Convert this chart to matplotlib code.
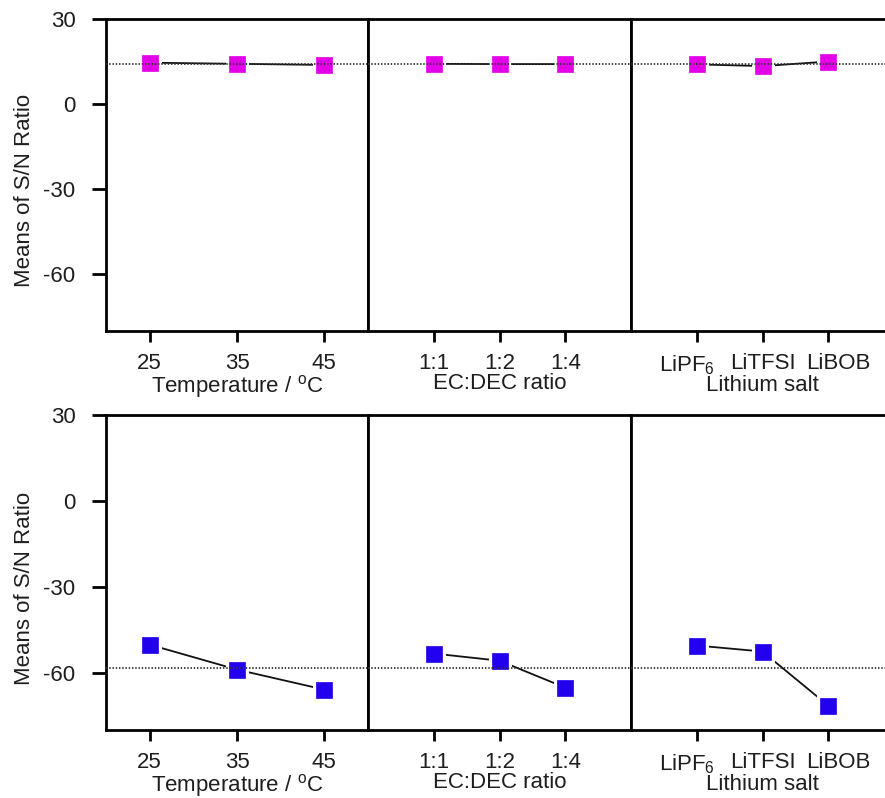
import matplotlib
matplotlib.use("Agg")
import matplotlib.pyplot as plt
import matplotlib.transforms as mtransforms
import numpy as np

plt.rcParams['font.family'] = ['Liberation Sans', 'DejaVu Sans']
plt.rcParams['mathtext.fontset'] = 'custom'
plt.rcParams['mathtext.rm'] = 'Liberation Sans'
plt.rcParams['mathtext.it'] = 'Liberation Sans'

# Factor levels
temp_levels = ['25', '35', '45']
ratio_levels = ['1:1', '1:2', '1:4']
salt_levels = ['LiPF$_\\mathregular{6}$', 'LiTFSI', 'LiBOB']

factor_names = ['Temperature / $^\\mathregular{o}$C', 'EC:DEC ratio', 'Lithium salt']

# Means of S/N ratio, upper response
upper_temp = [14.6, 14.2, 13.8]
upper_ratio = [14.2, 14.1, 14.1]
upper_salt = [14.0, 13.4, 15.0]
upper_mean = 14.2

# Means of S/N ratio, lower response
lower_temp = [-50.2, -58.9, -65.9]
lower_ratio = [-53.3, -55.8, -65.2]
lower_salt = [-50.5, -52.6, -71.5]
lower_mean = -58.2

yticks = [30, 0, -30, -60]

W, H = 885, 798
fig = plt.figure(figsize=(W / 100, H / 100), dpi=100)

panel_x = [(106, 368), (368, 631), (631, 894)]
rows = [
    dict(top=19, bottom=331, color='#e200e6',
         series=[upper_temp, upper_ratio, upper_salt], mean=upper_mean),
    dict(top=415, bottom=730, color='#2200ee',
         series=[lower_temp, lower_ratio, lower_salt], mean=lower_mean),
]
levels = [temp_levels, ratio_levels, salt_levels]
xlims = [(0.5, 3.5), (0, 4), (0, 4)]

FS = 16
spine_lw = 2.0
text_col = '#1e1e1e'

for row in rows:
    for j, (x0, x1) in enumerate(panel_x):
        ax = fig.add_axes([x0 / W, 1 - row['bottom'] / H,
                           (x1 - x0) / W, (row['bottom'] - row['top']) / H])
        vals = row['series'][j]
        xs = np.arange(1, len(vals) + 1)
        ax.plot(xs, vals, color='#111111', lw=1.3, zorder=2)
        # white halo leaves a small gap between line and marker
        ax.plot(xs, vals, ls='none', marker='s', ms=12, mfc='white',
                mec='white', mew=5, zorder=3)
        ax.plot(xs, vals, ls='none', marker='s', ms=12, mfc=row['color'],
                mec=row['color'], mew=0.5, zorder=4)
        ax.axhline(row['mean'], color='#333333', lw=1.3,
                   ls=(0, (0.8, 1.0)), zorder=5)
        ax.set_xlim(*xlims[j])
        ax.set_ylim(-80, 30)
        ax.set_xticks(xs)
        ax.set_xticklabels(levels[j], fontsize=FS)
        ax.set_xlabel(factor_names[j], fontsize=FS, labelpad=-1,
                      color=text_col)
        ax.tick_params(axis='x', direction='out', length=8, width=spine_lw,
                       pad=8, colors='black', labelcolor=text_col)
        if j == 2:
            # spread the long salt names apart so they do not touch
            labels = ax.get_xticklabels()
            for lab, dx in zip(labels, (-10, 0, 10)):
                lab.set_transform(lab.get_transform() +
                                  mtransforms.ScaledTranslation(dx / 100, 0,
                                                                fig.dpi_scale_trans))
        for s in ax.spines.values():
            s.set_linewidth(spine_lw)
            s.set_color('black')
        if j == 0:
            ax.set_yticks(yticks)
            ax.set_yticklabels([str(v) for v in yticks], fontsize=FS,
                               color=text_col)
            ax.tick_params(axis='y', direction='out', length=10,
                           width=spine_lw, pad=12)
            ax.set_ylabel('Means of S/N Ratio', fontsize=FS, color=text_col)
            ax.yaxis.set_label_coords(-0.27, 0.45)
        else:
            ax.set_yticks([])

fig.savefig('out.png', dpi=100, facecolor='white')
